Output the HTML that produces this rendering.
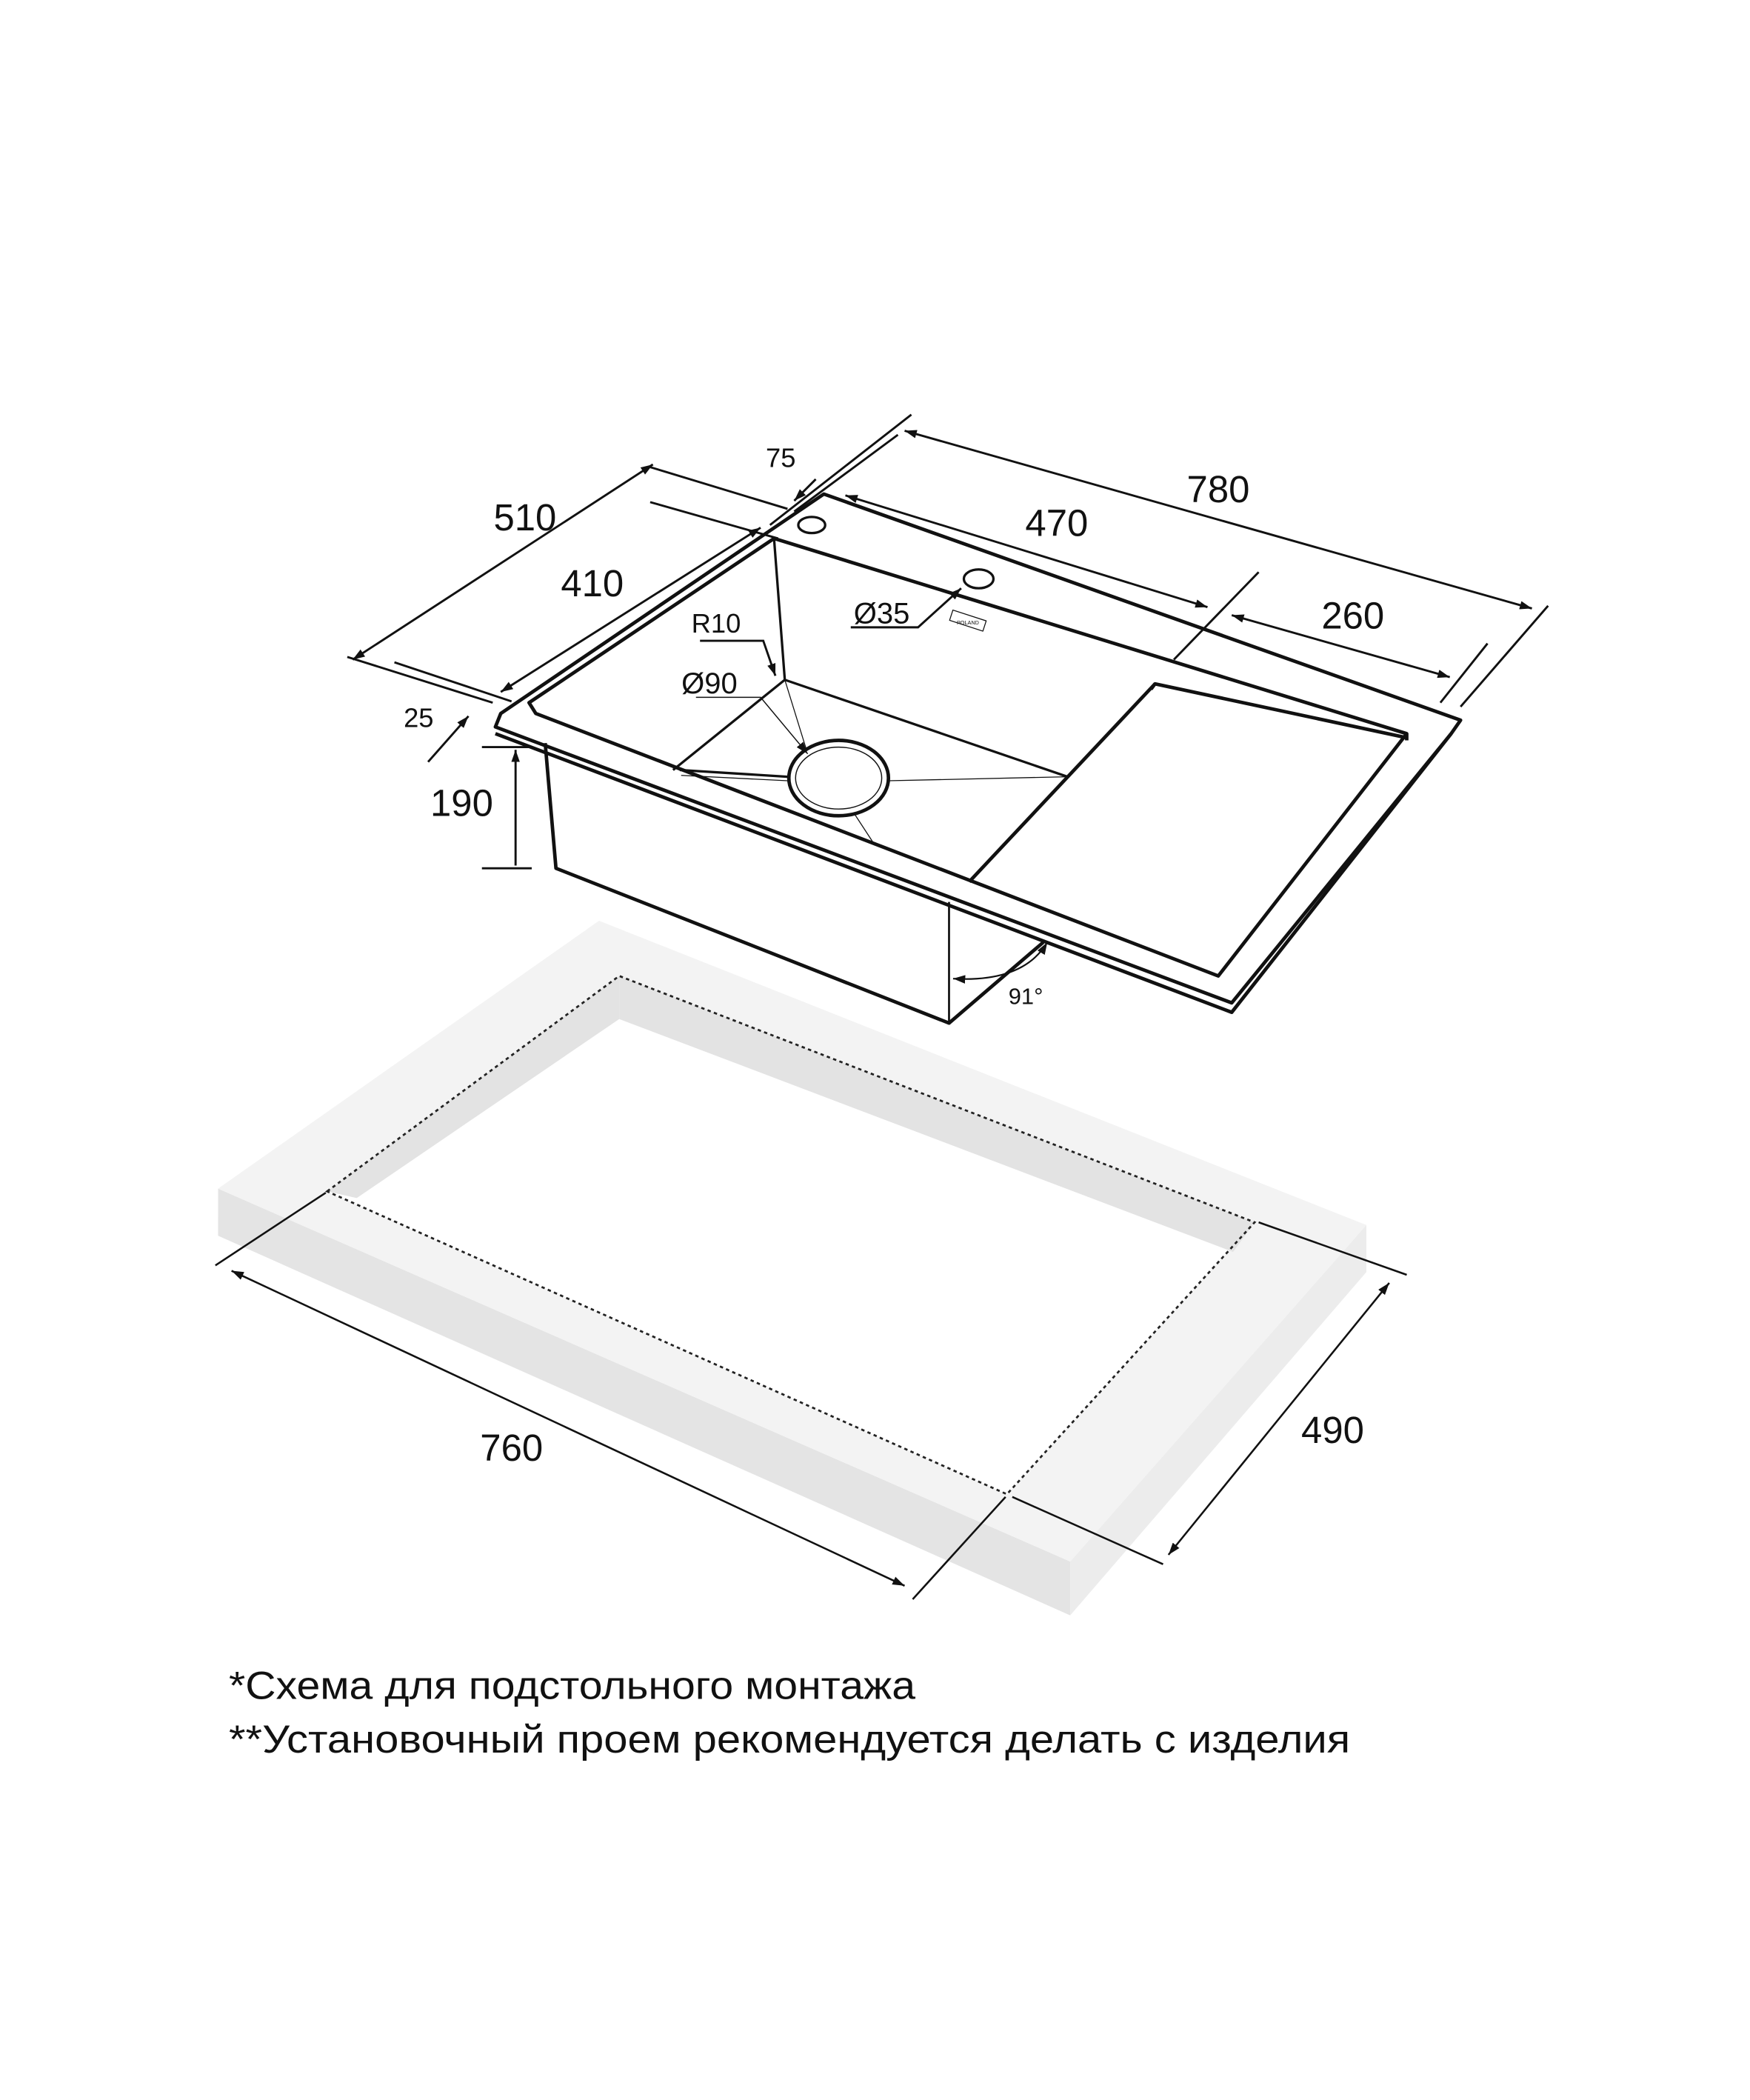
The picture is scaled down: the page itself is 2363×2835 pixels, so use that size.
<!DOCTYPE html>
<html><head><meta charset="utf-8"><style>
html,body{margin:0;padding:0;background:#fff;}
svg{display:block;}
text{font-family:"Liberation Sans",sans-serif;fill:#111;}
</style></head><body>
<svg width="2363" height="2835" viewBox="0 0 1300 1560" preserveAspectRatio="none" xmlns="http://www.w3.org/2000/svg">
<defs>
<marker id="a" viewBox="0 0 10 10" refX="10" refY="5" markerWidth="9" markerHeight="9" orient="auto-start-reverse" markerUnits="userSpaceOnUse"><path d="M0,1.5 L10,5 L0,8.5 z" fill="#111"/></marker>
</defs>
<!-- countertop -->
<polygon points="162,883 162,918 795,1200 795,1160" fill="#e4e4e4"/>
<polygon points="795,1160 795,1200 1015,945 1015,910" fill="#ececec"/>
<polygon points="162,883 445,684 1015,910 795,1160" fill="#f3f3f3"/>
<polygon points="243,885 460,725 932,908 748,1110" fill="#fff"/>
<polygon points="243,885 460,725 460,757 265,890" fill="#e3e3e3"/>
<polygon points="460,725 932,908 916,930 460,757" fill="#e3e3e3"/>
<polygon points="243,885 460,725 932,908 748,1110" fill="none" stroke="#222" stroke-width="1.5" stroke-dasharray="2.5,2.5"/>
<g stroke="#111" stroke-width="1.4" fill="none">
<line x1="160" y1="940" x2="242" y2="886"/>
<line x1="678" y1="1188" x2="747" y2="1112"/>
<line x1="172" y1="944" x2="672" y2="1178" marker-start="url(#a)" marker-end="url(#a)"/>
<line x1="935" y1="908" x2="1045" y2="947"/>
<line x1="752" y1="1112" x2="864" y2="1162"/>
<line x1="1032" y1="953" x2="868" y2="1155" marker-start="url(#a)" marker-end="url(#a)"/>
</g>
<text x="380" y="1085" font-size="28" text-anchor="middle">760</text>
<text x="990" y="1072" font-size="28" text-anchor="middle">490</text>

<!-- sink body -->
<g stroke="#111" fill="none" stroke-linejoin="round">
<g stroke-width="2.6">
<polyline points="405,552 413,645 705,760 775,700"/>
<line x1="705" y1="670" x2="705" y2="760" stroke-width="1.5"/>
<polyline points="368,545 915,752 1078,545"/>
<polygon points="372,530 612,367 1085,535 1078,545 915,745 368,540"/>
<polyline points="575,400 393,522 398,530 905,725 1045,545 1045,550"/>
<line x1="575" y1="400" x2="1045" y2="545"/>
<polyline points="1045,548 858,508 855,512"/>
<line x1="858" y1="508" x2="720" y2="655"/>
</g>
<g stroke-width="1.8">
<line x1="575" y1="400" x2="583" y2="505"/>
<line x1="583" y1="505" x2="500" y2="572"/>
<line x1="583" y1="505" x2="793" y2="577"/>
<line x1="505" y1="572" x2="585" y2="577"/>
</g>
<g stroke-width="0.7">
<line x1="583" y1="505" x2="600" y2="560"/>
<line x1="660" y1="580" x2="793" y2="577"/>
<line x1="506" y1="576" x2="585" y2="580"/>
<line x1="635" y1="605" x2="650" y2="628"/>
</g>
<ellipse cx="623" cy="578" rx="37" ry="28" stroke-width="2.6" fill="#fff"/>
<ellipse cx="623" cy="578" rx="32" ry="23" stroke-width="0.8"/>
<ellipse cx="603" cy="390" rx="10" ry="6" stroke-width="1.8"/>
<ellipse cx="727" cy="430" rx="11" ry="7" stroke-width="1.8"/>
<rect x="706" y="457" width="26" height="8" stroke-width="0.7" transform="rotate(18 719 461)"/>
</g>
<text x="719" y="464" font-size="4" text-anchor="middle">POLAND</text>

<!-- dimension lines sink -->
<g stroke="#111" stroke-width="1.6" fill="none">
<line x1="483" y1="347" x2="585" y2="378"/>
<line x1="483" y1="373" x2="578" y2="400"/>
<line x1="258" y1="488" x2="366" y2="522"/>
<line x1="293" y1="492" x2="380" y2="521"/>
<line x1="262" y1="490" x2="485" y2="345" marker-start="url(#a)" marker-end="url(#a)"/>
<line x1="372" y1="514" x2="565" y2="392" marker-start="url(#a)" marker-end="url(#a)"/>
<line x1="572" y1="390" x2="677" y2="308"/>
<line x1="590" y1="380" x2="667" y2="323"/>
<line x1="606" y1="356" x2="590" y2="372" marker-end="url(#a)"/>
<line x1="672" y1="320" x2="1138" y2="452" marker-start="url(#a)" marker-end="url(#a)"/>
<line x1="1085" y1="525" x2="1150" y2="450"/>
<line x1="628" y1="368" x2="897" y2="451" marker-start="url(#a)" marker-end="url(#a)"/>
<line x1="872" y1="490" x2="935" y2="425"/>
<line x1="915" y1="457" x2="1077" y2="503" marker-start="url(#a)" marker-end="url(#a)"/>
<line x1="1070" y1="522" x2="1105" y2="478"/>
<line x1="318" y1="566" x2="348" y2="532" marker-end="url(#a)"/>
<line x1="358" y1="555" x2="395" y2="555"/>
<line x1="358" y1="645" x2="395" y2="645"/>
<line x1="383" y1="557" x2="383" y2="643" marker-start="url(#a)"/>
<polyline points="520,476 567,476 576,502" marker-end="url(#a)"/>
<polyline points="632,466 682,466 714,437" marker-end="url(#a)"/>
<path d="M708,727 Q760,730 778,700" marker-start="url(#a)" marker-end="url(#a)" stroke-width="1.2"/>
</g>
<g stroke="#111" stroke-width="0.8" fill="none">
<polyline points="517,518 565,518 600,560" marker-end="url(#a)"/>
</g>
<text x="390" y="394" font-size="28" text-anchor="middle">510</text>
<text x="440" y="443" font-size="28" text-anchor="middle">410</text>
<text x="580" y="347" font-size="20" text-anchor="middle">75</text>
<text x="905" y="373" font-size="28" text-anchor="middle">780</text>
<text x="785" y="398" font-size="28" text-anchor="middle">470</text>
<text x="1005" y="467" font-size="28" text-anchor="middle">260</text>
<text x="311" y="540" font-size="20" text-anchor="middle">25</text>
<text x="343" y="606" font-size="28" text-anchor="middle">190</text>
<text x="532" y="470" font-size="20" text-anchor="middle">R10</text>
<text x="527" y="515" font-size="22" text-anchor="middle">Ø90</text>
<text x="655" y="463" font-size="22" text-anchor="middle">Ø35</text>
<text x="762" y="746" font-size="17" text-anchor="middle">91°</text>

<text x="170" y="1262" font-size="29" textLength="510" lengthAdjust="spacingAndGlyphs">*Схема для подстольного монтажа</text>
<text x="170" y="1302" font-size="29" textLength="833" lengthAdjust="spacingAndGlyphs">**Установочный проем рекомендуется делать с изделия</text>
</svg>
</body></html>
